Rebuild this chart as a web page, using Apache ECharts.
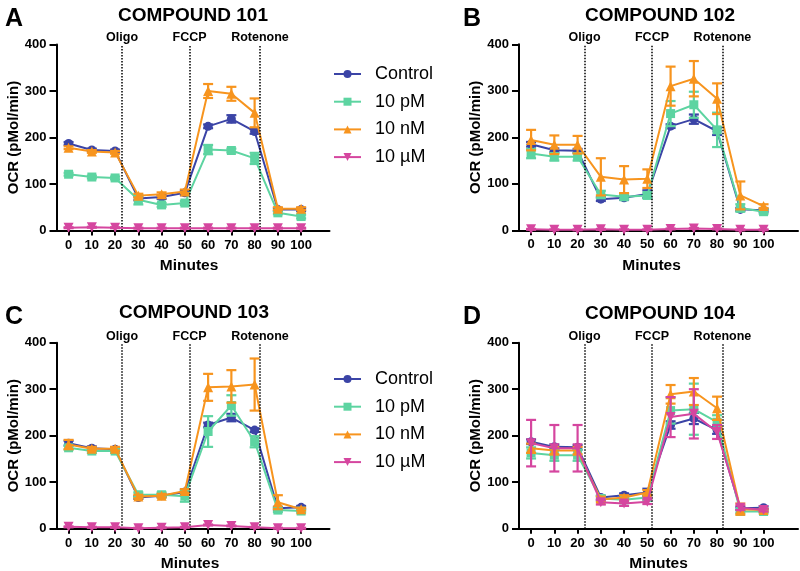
<!DOCTYPE html>
<html>
<head>
<meta charset="utf-8">
<script src="https://cdn.jsdelivr.net/npm/echarts@6/dist/echarts.min.js"></script>
<style>html,body{margin:0;padding:0;background:#fff}#c{width:800px;height:571px}</style>
</head>
<body>
<div id="c"></div>
<script>
// ---------- data ----------
const minutes = [0, 10, 20, 30, 40, 50, 60, 70, 80, 90, 100];
const xTickValues = [0, 10, 20, 30, 40, 50, 60, 70, 80, 90, 100];
const seriesNames = ['Control', '10 pM', '10 nM', '10 \u00b5M'];
const panelLetters = ['A', 'B', 'C', 'D'];
const panelTitles = ['COMPOUND 101', 'COMPOUND 102', 'COMPOUND 103', 'COMPOUND 104'];
const injectionNames = ['Oligo', 'FCCP', 'Rotenone'];
const injectionTimes = [23, 52, 82.3];

// Panel A (Compound 101)
const a_ctrl = [187, 173, 171, 69, 72, 81, 224, 240, 213, 45, 45];
const a_ctrl_err = [3, 3, 3, 4, 4, 5, 4, 8, 5, 3, 3];
const a_pM = [121, 115, 113, 66, 55, 59, 174, 172, 155, 38, 30];
const a_pM_err = [3, 3, 3, 10, 4, 4, 10, 4, 12, 3, 4];
const a_nM = [178, 170, 168, 75, 78, 84, 300, 294, 253, 47, 47];
const a_nM_err = [3, 3, 3, 4, 4, 4, 15, 15, 31, 3, 3];
const a_uM = [6, 7, 6, 5, 5, 5, 5, 5, 5, 5, 5];
const a_uM_err = [1, 1, 1, 1, 1, 1, 1, 1, 1, 1, 1];

// Panel B (Compound 102)
const b_ctrl = [185, 172, 171, 67, 70, 78, 224, 239, 213, 45, 43];
const b_ctrl_err = [5, 4, 4, 4, 4, 8, 4, 10, 8, 3, 3];
const b_pM = [165, 158, 158, 77, 72, 75, 251, 270, 216, 48, 40];
const b_pM_err = [10, 8, 8, 8, 5, 6, 27, 28, 37, 8, 4];
const b_nM = [194, 184, 184, 115, 109, 111, 310, 326, 283, 75, 52];
const b_nM_err = [22, 20, 19, 40, 29, 20, 42, 38, 33, 30, 4];
const b_uM = [2, 1, 1, 2, 1, 1, 3, 4, 3, 1, 1];
const b_uM_err = [1, 1, 1, 1, 1, 1, 1, 1, 1, 1, 1];

// Panel C (Compound 103)
const c_ctrl = [184, 173, 171, 67, 71, 79, 223, 239, 212, 44, 46];
const c_ctrl_err = [5, 4, 4, 3, 3, 5, 5, 8, 4, 3, 3];
const c_pM = [174, 167, 167, 73, 73, 70, 209, 265, 187, 40, 38];
const c_pM_err = [4, 4, 4, 5, 5, 12, 33, 22, 12, 4, 3];
const c_nM = [181, 172, 172, 69, 71, 81, 304, 306, 310, 57, 42];
const c_nM_err = [10, 4, 4, 4, 4, 4, 29, 35, 56, 15, 3];
const c_uM = [4, 3, 3, 1, 2, 3, 8, 6, 3, 1, 1];
const c_uM_err = [1, 1, 1, 1, 1, 1, 1, 1, 1, 1, 1];

// Panel D (Compound 104)
const d_ctrl = [187, 176, 175, 67, 72, 78, 223, 237, 212, 44, 45];
const d_ctrl_err = [5, 5, 5, 4, 4, 8, 8, 12, 8, 3, 3];
const d_pM = [163, 158, 158, 65, 62, 67, 254, 257, 229, 37, 37];
const d_pM_err = [12, 12, 12, 5, 4, 6, 28, 55, 15, 3, 3];
const d_nM = [173, 168, 168, 63, 67, 78, 289, 295, 259, 42, 40];
const d_nM_err = [10, 8, 8, 6, 5, 5, 20, 29, 25, 12, 3];
const d_uM = [184, 173, 173, 57, 54, 58, 240, 247, 208, 45, 40];
const d_uM_err = [50, 50, 50, 5, 5, 5, 43, 53, 15, 5, 3];

const panelData = [
  [[a_ctrl, a_ctrl_err], [a_pM, a_pM_err], [a_nM, a_nM_err], [a_uM, a_uM_err]],
  [[b_ctrl, b_ctrl_err], [b_pM, b_pM_err], [b_nM, b_nM_err], [b_uM, b_uM_err]],
  [[c_ctrl, c_ctrl_err], [c_pM, c_pM_err], [c_nM, c_nM_err], [c_uM, c_uM_err]],
  [[d_ctrl, d_ctrl_err], [d_pM, d_pM_err], [d_nM, d_nM_err], [d_uM, d_uM_err]]
];

// ---------- styles ----------
const FONT = 'Liberation Sans, Arial, Helvetica, sans-serif';
const colors = ['#3B44A6', '#5DD4A1', '#F7941E', '#D5469F'];
const symbols = ['circle', 'rect', 'triangle', 'triangle'];
const symbolSizes = [9, 9, 10, 10];
const symbolRot = [0, 0, 0, 180];

// layout per panel
const layout = [
  {left: 56.5, top: 44.5, width: 273, height: 186, xmin: -5.2, xmax: 112.2, titleX: 188, titleY: 1, letterX: 0, letterY: 2, xnamePad: [0, 8, 0, 0]},
  {left: 519, top: 44.3, width: 279, height: 186, xmin: -5.2, xmax: 114.8, titleX: 655, titleY: 1, letterX: 458, letterY: 2, xnamePad: [0, 14, 0, 0]},
  {left: 56.5, top: 342.7, width: 273, height: 186, xmin: -5.2, xmax: 112.2, titleX: 189, titleY: 298, letterX: 0, letterY: 300, xnamePad: [0, 6, 0, 0]},
  {left: 519, top: 342.7, width: 279, height: 186, xmin: -5.2, xmax: 114.8, titleX: 655, titleY: 299, letterX: 458, letterY: 300, xnamePad: [0, 0, 0, 0]}
];

const grids = [], xAxes = [], yAxes = [], titles = [], series = [];

layout.forEach((L, p) => {
  grids.push({left: L.left, top: L.top, width: L.width, height: L.height, containLabel: false, outerBoundsMode: 'none'});
  xAxes.push({
    type: 'value', gridIndex: p, min: L.xmin, max: L.xmax,
    name: 'Minutes', nameLocation: 'middle', nameGap: 27,
    nameTextStyle: {fontFamily: FONT, fontWeight: 'bold', fontSize: 15.5, color: '#000', padding: L.xnamePad},
    axisLine: {onZero: false, lineStyle: {color: '#000', width: 2}},
    axisTick: {show: true, length: 5, lineStyle: {color: '#000', width: 2}, customValues: xTickValues},
    axisLabel: {fontFamily: FONT, fontWeight: 'bold', fontSize: 13, color: '#000', margin: 8, customValues: xTickValues},
    splitLine: {show: false}
  });
  yAxes.push({
    type: 'value', gridIndex: p, min: 0, max: 400, interval: 100,
    name: 'OCR (pMol/min)', nameLocation: 'middle', nameGap: 35,
    nameTextStyle: {fontFamily: FONT, fontWeight: 'bold', fontSize: 15, color: '#000'},
    axisLine: {show: true, onZero: false, lineStyle: {color: '#000', width: 2}},
    axisTick: {show: true, length: 7, lineStyle: {color: '#000', width: 2}},
    axisLabel: {fontFamily: FONT, fontWeight: 'bold', fontSize: 13, color: '#000', margin: 10},
    splitLine: {show: false}
  });
  titles.push({
    text: panelLetters[p], left: L.letterX, top: L.letterY,
    textStyle: {fontFamily: FONT, fontWeight: 'bold', fontSize: 25, color: '#000'}
  });
  titles.push({
    text: panelTitles[p], left: L.titleX, top: L.titleY, textAlign: 'center',
    textStyle: {fontFamily: FONT, fontWeight: 'bold', fontSize: 19, color: '#000'}
  });

  panelData[p].forEach((pair, s) => {
    const mean = pair[0], err = pair[1];
    series.push({
      type: 'custom', name: seriesNames[s] + ' (SEM)', xAxisIndex: p, yAxisIndex: p,
      silent: true, z: 2 + s,
      data: minutes.map((m, i) => [m, mean[i], err[i]]),
      encode: {x: 0, y: 1},
      renderItem: function (params, api) {
        const x = api.value(0), y = api.value(1), e = api.value(2);
        const top = api.coord([x, y + e]);
        const bot = api.coord([x, y - e]);
        const hw = 5;
        const st = {stroke: colors[s], lineWidth: 2.2};
        return {
          type: 'group',
          children: [
            {type: 'line', shape: {x1: top[0], y1: top[1], x2: bot[0], y2: bot[1]}, style: st},
            {type: 'line', shape: {x1: top[0] - hw, y1: top[1], x2: top[0] + hw, y2: top[1]}, style: st},
            {type: 'line', shape: {x1: bot[0] - hw, y1: bot[1], x2: bot[0] + hw, y2: bot[1]}, style: st}
          ]
        };
      }
    });
    const line = {
      type: 'line', name: seriesNames[s], xAxisIndex: p, yAxisIndex: p,
      data: minutes.map((m, i) => [m, mean[i]]),
      symbol: symbols[s], symbolSize: symbolSizes[s], symbolRotate: symbolRot[s],
      showSymbol: true, z: 2 + s,
      color: colors[s],
      lineStyle: {color: colors[s], width: 2},
      itemStyle: {color: colors[s], borderWidth: 0},
      emphasis: {disabled: true}, silent: true
    };
    if (s === 0) {
      line.markLine = {
        silent: true, symbol: ['none', 'none'],
        lineStyle: {color: '#000', type: 'dotted', width: 1.5},
        label: {show: true, position: 'end', formatter: '{b}', distance: 0,
          fontFamily: FONT, fontWeight: 'bold', fontSize: 12.5, color: '#000'},
        data: injectionTimes.map((t, k) => ({name: injectionNames[k], xAxis: t}))
      };
    }
    series.push(line);
  });
});

const legendCommon = {
  orient: 'vertical', left: 328, itemWidth: 27, itemHeight: 10, itemGap: 9.7,
  selectedMode: false,
  textStyle: {fontFamily: FONT, fontSize: 18, color: '#000', padding: [0, 0, 0, 9]},
  data: seriesNames
};

const option = {
  animation: false,
  backgroundColor: '#fff',
  title: titles,
  legend: [
    Object.assign({}, legendCommon, {top: 60}),
    Object.assign({}, legendCommon, {top: 365})
  ],
  grid: grids,
  xAxis: xAxes,
  yAxis: yAxes,
  series: series
};

const chart = echarts.init(document.getElementById('c'), null, {renderer: 'canvas'});
chart.setOption(option);
</script>
</body>
</html>
